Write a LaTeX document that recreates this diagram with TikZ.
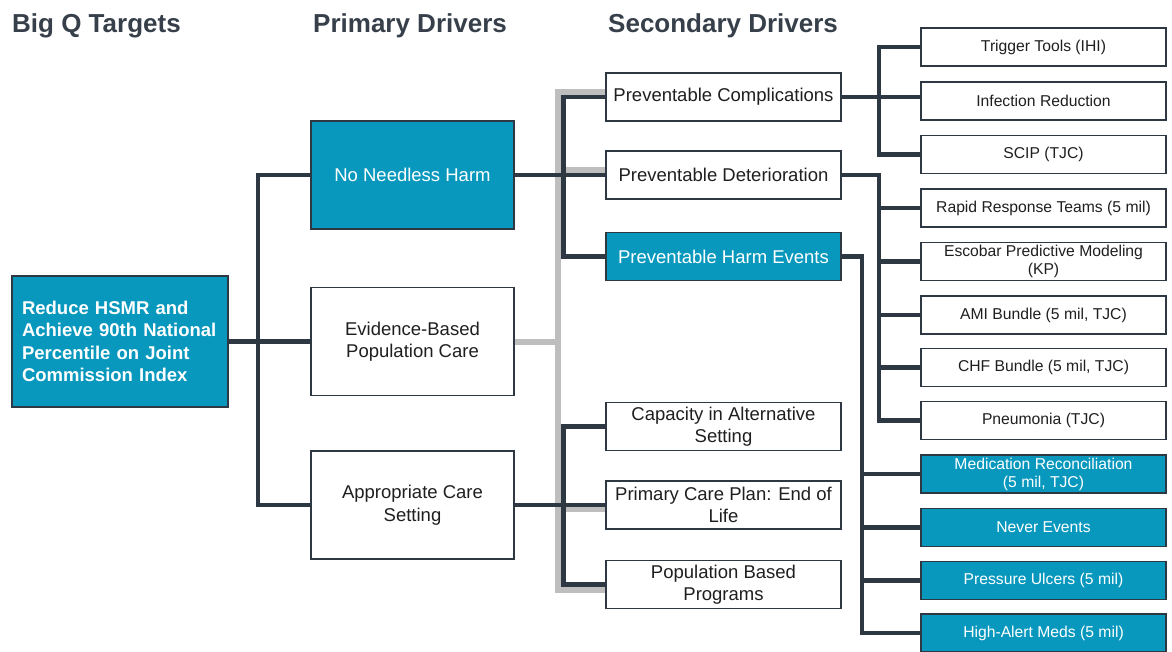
\documentclass[tikz,border=0pt]{standalone}
\usepackage{fontspec}
\setmainfont{Liberation Sans}
\usepackage{xcolor}

\definecolor{qteal}{RGB}{8,152,189}
\definecolor{qslate}{RGB}{46,56,66}
\definecolor{qgrey}{RGB}{190,190,190}
\definecolor{qhead}{RGB}{55,64,74}

\tikzset{
	box/.style={draw=qslate, line width=1.8pt, fill=white, text=black!88, align=center, inner sep=2pt,
		font=\fontsize{18.5}{22.5}\selectfont},
	hot/.style={fill=qteal, text=white},
	rootbox/.style={box, hot, align=left, text width=196pt, minimum width=216pt, minimum height=131pt,
		font=\bfseries\fontsize{18.5}{22.5}\selectfont},
	prim/.style={box, minimum width=203pt, minimum height=108pt},
	sec/.style={box, minimum width=235pt, minimum height=48pt},
	ter/.style={box, minimum width=245pt, minimum height=38pt, font=\fontsize{15.7}{18}\selectfont},
	link/.style={draw=qslate, line width=4.5pt},
	greylink/.style={draw=qgrey, line width=6pt},
	head/.style={anchor=base west, inner sep=0pt, text=qhead, font=\bfseries\fontsize{26}{30}\selectfont},
}

\begin{document}
\begin{tikzpicture}[x=1pt, y=-1pt]
		\path[use as bounding box, fill=white] (0,0) rectangle (1172,652);

		% column headings
		\node[head] (h1) at (12,33) {Big Q Targets};
		\node[head] (h2) at (313,33) {Primary Drivers};
		\node[head] (h3) at (608,33) {Secondary Drivers};

		% target and primary drivers
		\node[rootbox] (root) at (120,341.5) {Reduce HSMR and\\Achieve 90th National\\Percentile on Joint\\Commission Index};
		\node[prim, hot] (nnh) at (412.5,175) {No Needless Harm};
		\node[prim] (ebpc) at (412.5,341.5) {Evidence-Based\\Population Care};
		\node[prim] (acs) at (412.5,505) {Appropriate Care\\Setting};

		% secondary drivers
		\node[sec] (pc) at (723.5,97) {Preventable Complications};
		\node[sec] (det) at (723.5,175) {Preventable Deterioration};
		\node[sec, hot] (phe) at (723.5,256.5) {Preventable Harm Events};
		\node[sec] (cap) at (723.5,426.5) {Capacity in Alternative\\Setting};
		\node[sec] (pcp) at (723.5,505) {Primary Care Plan: End of\\Life};
		\node[sec] (pop) at (723.5,584.5) {Population Based\\Programs};

		% interventions
		\node[ter] (trig) at (1043.5,47) {Trigger Tools (IHI)};
		\node[ter] (infect) at (1043.5,101) {Infection Reduction};
		\node[ter] (scip) at (1043.5,154.5) {SCIP (TJC)};
		\node[ter] (rrt) at (1043.5,208) {Rapid Response Teams (5 mil)};
		\node[ter] (esc) at (1043.5,261.5) {Escobar Predictive Modeling\\(KP)};
		\node[ter] (ami) at (1043.5,315) {AMI Bundle (5 mil, TJC)};
		\node[ter] (chf) at (1043.5,367.5) {CHF Bundle (5 mil, TJC)};
		\node[ter] (pneu) at (1043.5,420.5) {Pneumonia (TJC)};
		\node[ter, hot] (med) at (1043.5,474) {Medication Reconciliation\\(5 mil, TJC)};
		\node[ter, hot] (never) at (1043.5,527.5) {Never Events};
		\node[ter, hot] (pu) at (1043.5,580.5) {Pressure Ulcers (5 mil)};
		\node[ter, hot] (ham) at (1043.5,633) {High-Alert Meds (5 mil)};

		% bus lines
		\coordinate (b1) at (258,0);
		\coordinate (g1) at (558,0);
		\coordinate (b2) at (563.5,0);
		\coordinate (b3) at (879,0);
		\coordinate (b4) at (862,0);

		% grey links (evidence-based care) sit underneath
		\draw[greylink] (ebpc.east) -- (g1 |- ebpc.east);
		\draw[greylink] ([yshift=5pt]pc.west) -| (g1 |- pop.west) |- ([yshift=-5pt]pop.west);
		\draw[greylink] (g1 |- det.west) ++(0,-5) -- ([yshift=5pt]det.west);
		\draw[greylink] (g1 |- pcp.west) ++(0,4) -- ([yshift=-4pt]pcp.west);

		% target to primary drivers
		\draw[link] (root.east) -- (ebpc.west);
		\draw[link] (nnh.west) -| (b1 |- acs.west) -- (acs.west);

		% primary to secondary drivers
		\draw[link] (nnh.east) -- (det.west);
		\draw[link] (pc.west) -| (b2 |- phe.west) -- (phe.west);
		\draw[link] (acs.east) -- (pcp.west);
		\draw[link] (cap.west) -| (b2 |- pop.west) -- (pop.west);

		% secondary drivers to interventions
		\draw[link] (pc.east) -- (pc.east -| infect.west);
		\draw[link] (trig.west) -| (b3 |- scip.west) -- (scip.west);
		\draw[link] (det.east) -| (b3 |- pneu.west) -- (pneu.west);
		\foreach \n in {rrt,esc,ami,chf}
			\draw[link] (b3 |- \n.west) -- (\n.west);
		\draw[link] (phe.east) -| (b4 |- ham.west) -- (ham.west);
		\foreach \n in {med,never,pu}
			\draw[link] (b4 |- \n.west) -- (\n.west);
	\end{tikzpicture}
\end{document}
